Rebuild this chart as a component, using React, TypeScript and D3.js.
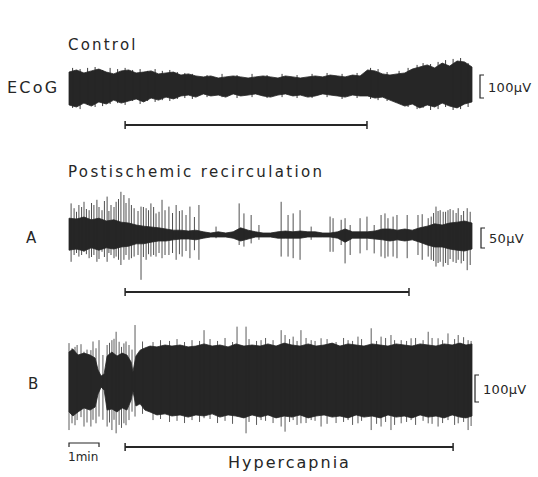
import React from 'react';
import * as d3 from 'd3';

// whole recording width in minutes (1 min bar = 30px)
const TOTAL_MIN = 13.43;

// Control ECoG - envelope in µV above / below baseline, sampled evenly over the trace
const controlUp = [65, 74, 61, 70, 78, 65, 57, 70, 74, 61, 65, 70, 57, 61, 65, 52, 57, 48, 44, 48,
    39, 44, 48, 44, 39, 44, 48, 44, 39, 48, 44, 39, 44, 48, 44, 52, 48, 44, 52, 48,
    74, 70, 57, 52, 57, 61, 78, 87, 96, 83, 104, 91, 113, 109, 87];
const controlDown = [78, 87, 70, 83, 65, 74, 57, 70, 61, 52, 65, 48, 57, 44, 52, 39, 35, 44, 30, 39,
    35, 44, 30, 39, 35, 30, 39, 44, 35, 30, 39, 35, 44, 39, 30, 35, 39, 44, 35, 39,
    39, 48, 44, 57, 70, 83, 74, 91, 78, 87, 70, 83, 91, 74, 65];
// small waves sticking out of the control band: [minute, up µV, down µV]
const controlSpikes = [
    [0.12, 83, 91], [0.37, 78, 96], [0.62, 83, 78], [0.87, 87, 87], [1.12, 74, 83], [1.37, 83, 74],
    [1.62, 78, 70], [1.87, 83, 78], [2.12, 74, 61], [2.37, 78, 74], [2.62, 70, 61], [2.87, 78, 65],
    [3.11, 70, 57], [3.36, 74, 61], [3.61, 65, 52], [3.86, 61, 48], [4.11, 57, 52], [4.6, 52, 44],
    [5.1, 57, 44], [5.6, 52, 48], [6.1, 57, 44], [6.6, 52, 48], [7.1, 57, 44], [7.6, 52, 48],
    [8.1, 57, 48], [8.6, 61, 44], [9.1, 57, 52], [9.6, 61, 48], [10.05, 83, 52], [10.3, 78, 57],
    [10.6, 65, 61], [11.0, 70, 70], [11.3, 83, 87], [11.6, 96, 96], [11.8, 104, 91], [12.05, 100, 100],
    [12.3, 109, 96], [12.55, 117, 87], [12.8, 122, 100], [13.05, 126, 96], [13.3, 104, 87],
];

// Postischemic recirculation A - background band (µV), sampled evenly
const aUp = [42, 40, 45, 38, 42, 35, 38, 32, 30, 25, 22, 20, 18, 15, 12, 12, 10, 12, 8, 5,
    8, 5, 8, 18, 12, 8, 5, 5, 8, 10, 8, 10, 8, 8, 5, 5, 8, 15, 8, 8,
    8, 10, 15, 15, 12, 15, 12, 18, 22, 28, 25, 30, 32, 35, 30];
const aDown = [38, 35, 40, 32, 38, 32, 35, 30, 28, 22, 22, 18, 15, 15, 12, 10, 10, 12, 8, 5,
    5, 5, 8, 15, 10, 5, 5, 5, 8, 8, 8, 8, 5, 5, 5, 5, 8, 18, 8, 8,
    8, 10, 12, 15, 12, 15, 12, 18, 25, 30, 30, 35, 38, 40, 35];
// burst spikes: [minute, up µV, down µV]
const aSpikes = [
    [0.07, 79, 67], [0.17, 67, 50], [0.33, 75, 54], [0.5, 83, 42], [0.67, 62, 58], [0.83, 75, 50],
    [0.93, 88, 67], [1.1, 62, 42], [1.27, 96, 67], [1.4, 75, 50], [1.57, 83, 54], [1.73, 108, 75],
    [1.83, 100, 62], [2.0, 92, 62], [2.17, 67, 54], [2.4, 71, 112], [2.57, 67, 62], [2.73, 79, 54],
    [2.9, 54, 54], [3.1, 88, 58], [3.33, 71, 50], [3.57, 75, 62], [3.77, 62, 54], [4.03, 71, 58],
    [4.33, 75, 62], [4.9, 21, 8], [5.67, 79, 25], [5.83, 54, 29], [6.07, 50, 21], [6.33, 25, 12],
    [7.07, 83, 54], [7.3, 50, 54], [7.47, 54, 58], [7.7, 62, 62], [8.07, 21, 12], [8.7, 46, 42],
    [8.8, 42, 42], [9.07, 38, 25], [9.2, 42, 71], [9.37, 25, 50], [9.7, 42, 46], [9.93, 46, 38],
    [10.17, 25, 46], [10.4, 50, 54], [10.53, 54, 58], [10.63, 42, 54], [10.8, 46, 54], [10.93, 50, 58],
    [11.27, 50, 58], [11.63, 50, 50], [11.77, 52, 62], [11.97, 42, 54], [12.07, 46, 62], [12.23, 71, 79],
    [12.37, 62, 67], [12.47, 58, 79], [12.63, 62, 75], [12.8, 62, 67], [12.97, 67, 62], [13.07, 50, 71],
    [13.27, 67, 88], [13.37, 58, 75],
    // fainter ones packed in the early burst and at the end
    [0.25, 58, 45], [0.42, 70, 50], [0.58, 65, 48], [0.75, 80, 55], [1.0, 70, 60], [1.18, 85, 55],
    [1.33, 60, 45], [1.5, 70, 58], [1.65, 90, 62], [1.9, 80, 50], [2.08, 75, 58], [2.3, 60, 50],
    [2.48, 70, 55], [2.65, 62, 48], [2.82, 70, 50], [3.0, 58, 45], [3.2, 62, 50], [3.45, 55, 45],
    [3.68, 60, 48], [3.9, 50, 40], [4.18, 45, 38], [12.15, 55, 65], [12.3, 60, 70], [12.55, 58, 70],
    [12.7, 65, 60], [12.9, 55, 70], [13.15, 60, 65],
];

// Postischemic recirculation B - envelope [minute, up µV, down µV]
const bEnvelope = [
    [0, 111, 111], [0.13, 122, 126], [0.3, 100, 111], [0.5, 107, 96], [0.7, 100, 104], [0.87, 89, 93],
    [0.97, 44, 44], [1.07, 22, 19], [1.17, 30, 30], [1.27, 96, 104], [1.43, 111, 100], [1.6, 96, 111],
    [1.77, 107, 96], [1.93, 100, 104], [2.07, 74, 67], [2.13, 37, 33], [2.23, 96, 89], [2.37, 118, 81],
    [2.53, 126, 104], [2.7, 133, 111], [2.93, 130, 122], [3.2, 137, 118], [3.43, 133, 126], [3.7, 137, 122],
    [3.97, 130, 130], [4.23, 133, 122], [4.5, 141, 126], [4.77, 133, 118], [5.03, 137, 130], [5.3, 130, 122],
    [5.57, 141, 126], [5.83, 133, 133], [6.1, 137, 122], [6.37, 133, 130], [6.63, 141, 122], [6.9, 133, 133],
    [7.17, 144, 126], [7.43, 137, 130], [7.7, 133, 122], [7.97, 141, 133], [8.23, 133, 126], [8.5, 137, 122],
    [8.77, 144, 130], [9.03, 133, 126], [9.3, 141, 133], [9.57, 137, 122], [9.83, 133, 130], [10.1, 141, 126],
    [10.37, 137, 133], [10.63, 133, 122], [10.9, 141, 130], [11.17, 137, 126], [11.43, 133, 133], [11.7, 141, 122],
    [11.97, 137, 130], [12.23, 133, 126], [12.5, 141, 133], [12.77, 137, 122], [13.03, 144, 130], [13.23, 137, 133],
    [13.43, 141, 126],
];
const bSpikes = [
    [0, 144, 178], [0.1, 125, 153], [0.27, 137, 141], [0.5, 112, 165], [0.73, 118, 165], [0.9, 125, 153],
    [1.0, 155, 128], [1.27, 137, 165], [1.43, 155, 178], [1.57, 186, 190], [1.67, 149, 159], [1.83, 143, 153],
    [2.0, 137, 141], [2.2, 211, 128], [4.5, 192, 134], [5.6, 205, 128], [5.9, 205, 190], [6.4, 155, 141],
    [7.07, 192, 165], [7.2, 174, 184], [7.47, 168, 141], [7.73, 192, 153], [8.07, 155, 141], [8.4, 162, 165],
    [9.3, 155, 141], [9.63, 168, 153], [10.07, 199, 178], [10.4, 168, 165], [10.73, 174, 178], [11.07, 155, 153],
    [11.4, 162, 141], [11.97, 186, 153], [12.3, 162, 165], [12.63, 180, 141], [12.97, 174, 153], [13.3, 155, 178],
    // ragged edge of the hypercapnia band
    [0.2, 130, 160], [0.4, 140, 130], [0.6, 120, 150], [0.8, 150, 140], [1.13, 100, 140], [1.35, 145, 150],
    [1.5, 160, 140], [1.75, 130, 170], [1.9, 150, 160], [2.1, 120, 110],
    [2.45, 150, 118], [2.8, 148, 141], [3.05, 155, 137], [3.35, 152, 148], [3.6, 159, 144], [3.85, 148, 152],
    [4.1, 155, 141], [4.35, 152, 148], [4.7, 159, 137], [4.95, 152, 152], [5.2, 163, 144], [5.45, 148, 155],
    [6.0, 159, 148], [6.25, 152, 159], [6.55, 163, 144], [6.8, 155, 152], [7.35, 159, 148], [7.6, 152, 159],
    [7.9, 163, 152], [8.2, 152, 144], [8.6, 159, 155], [8.9, 148, 152], [9.15, 163, 148], [9.45, 152, 159],
    [9.75, 159, 144], [10.25, 152, 155], [10.55, 163, 148], [10.85, 155, 159], [11.25, 152, 148], [11.55, 163, 159],
    [11.8, 155, 144], [12.1, 163, 155], [12.45, 155, 152], [12.85, 159, 159], [13.15, 166, 148], [13.4, 152, 163],
];

// event bars under the traces (minutes)
const controlBar = [1.87, 9.93];
const aBar = [1.87, 11.33];
const hypercapniaBar = [1.87, 12.8];

export default class extends React.Component {

    componentDidMount() {
        this._setupD3();
    }

    render() {
        return <div id="graph" />;
    }

    _setupD3 = () => {
        const width = 538, height = 477, ink = "#262626";
        const font = "'DejaVu Sans', sans-serif";

        const x = d3.scaleLinear().domain([0, TOTAL_MIN]).range([69, 472]);
        const step = TOTAL_MIN / (controlUp.length - 1);

        // one y scale per row, µV -> px
        const rowScale = (center, pxPerUV) => d3.scaleLinear()
            .domain([-100, 100])
            .range([center + 100 * pxPerUV, center - 100 * pxPerUV]);
        const yC = rowScale(87, 0.23), yA = rowScale(235, 0.4), yB = rowScale(382, 0.27);

        d3.select("#graph").select("svg").remove();
        const svg = d3.select("#graph").append("svg")
            .attr("width", width)
            .attr("height", height)
            .style("position", "absolute")
            .style("left", 0)
            .style("top", 0)
            .style("background", "#fff");

        const text = (s, tx, ty, size, spacing = 0) => svg.append("text")
            .attr("x", tx).attr("y", ty)
            .attr("font-family", font)
            .attr("font-size", size)
            .attr("letter-spacing", spacing)
            .attr("fill", ink)
            .text(s);

        const band = (rows, y) => {
            const area = d3.area()
                .x(d => x(d[0]))
                .y0(d => y(-d[2]))
                .y1(d => y(d[1]));
            svg.append("path").datum(rows).attr("d", area).attr("fill", ink)
                .attr("stroke", ink).attr("stroke-width", 0.8);
        };
        const even = (up, down) => up.map((u, i) => [i * step, u, down[i]]);

        const spikes = (rows, y, op) => svg.append("g")
            .attr("stroke", ink).attr("stroke-width", 1).attr("opacity", op)
            .selectAll("line").data(rows).enter().append("line")
            .attr("x1", d => x(d[0])).attr("x2", d => x(d[0]))
            .attr("y1", d => y(d[1])).attr("y2", d => y(-d[2]));

        // horizontal event bar with end ticks
        const bar = (range, by) => {
            const g = svg.append("g").attr("stroke", ink).attr("stroke-width", 2);
            g.append("line").attr("x1", x(range[0])).attr("x2", x(range[1])).attr("y1", by).attr("y2", by);
            range.forEach(t => g.append("line").attr("x1", x(t)).attr("x2", x(t))
                .attr("y1", by - 4).attr("y2", by + 4).attr("stroke-width", 1.5));
        };

        // calibration bracket [
        const bracket = (bx, y, uv, center, label) => {
            const h = (y(0) - y(uv)) / 2;
            svg.append("path")
                .attr("d", `M${bx + 4},${center - h}H${bx}V${center + h}H${bx + 4}`)
                .attr("fill", "none").attr("stroke", ink).attr("stroke-width", 1.2);
            text(label, bx + 8, center + 5, 13, 0.3);
        };

        // ---- Control
        text("Control", 68, 50, 15, 2.2);
        text("ECoG", 7, 93, 16, 2.2);
        band(even(controlUp, controlDown), yC);
        spikes(controlSpikes, yC, 0.9);
        bar(controlBar, 125);
        bracket(480, yC, 100, 86.5, "100µV");

        // ---- A
        text("Postischemic recirculation", 68, 177, 15, 2.35);
        text("A", 26, 243, 15);
        band(even(aUp, aDown), yA);
        spikes(aSpikes, yA, 0.8);
        bar(aBar, 292);
        bracket(481, yA, 50, 238, "50µV");

        // ---- B
        text("B", 28, 389, 15);
        band(bEnvelope, yB);
        spikes(bSpikes, yB, 0.75);
        bar(hypercapniaBar, 447);
        text("Hypercapnia", 228, 468, 16, 2);
        bracket(475, yB, 100, 388.5, "100µV");

        // 1 min scale
        const g1 = svg.append("g").attr("stroke", ink).attr("stroke-width", 1.2).attr("fill", "none");
        g1.append("path").attr("d", `M${x(0)},${447}V${443}H${x(1)}V${447}`);
        text("1min", 68, 461, 12);
    }
}
